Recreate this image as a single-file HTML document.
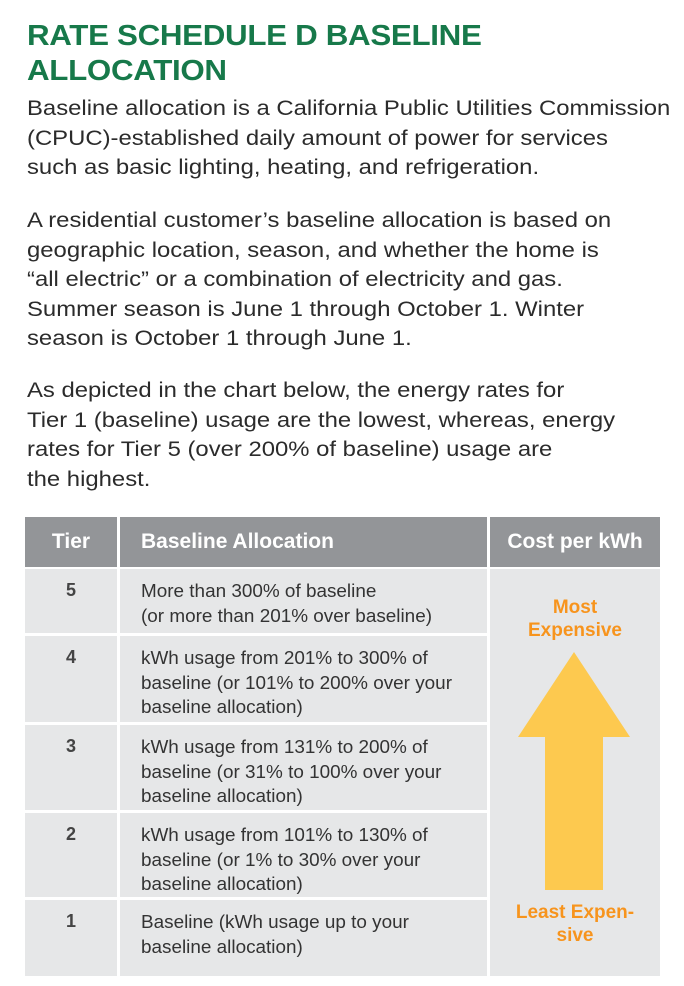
<!DOCTYPE html>
<html><head><meta charset="utf-8"><style>
body{margin:0;width:684px;height:986px;background:#fff;position:relative;font-family:"Liberation Sans",sans-serif;overflow:hidden}
.t{position:absolute;left:27px;top:19px;color:#17794a;font-weight:bold;font-size:29px;line-height:35px;letter-spacing:-0.3px;transform:scaleX(1.08);transform-origin:left top;white-space:nowrap}
.p{position:absolute;left:27px;color:#2b2b2b;font-size:21.5px;line-height:29.5px;white-space:nowrap;transform:scaleX(1.11);transform-origin:left top}
.c{position:absolute;background:#e6e7e8;color:#333;font-size:18px;line-height:24.5px;white-space:nowrap}
.c span{display:inline-block;transform:scaleX(1.05);transform-origin:left top}
.h{position:absolute;background:#939598;color:#fff;font-weight:bold;font-size:21px;line-height:50px}
.n{text-align:center;padding-top:9px;box-sizing:border-box;font-weight:bold;color:#444}
.d{padding:10px 0 0 21px;box-sizing:border-box}
.o{position:absolute;color:#f7941d;font-weight:bold;font-size:19px;line-height:23px;text-align:center;width:170px;left:490px}
</style></head><body>
<div class="t">RATE SCHEDULE D BASELINE<br>ALLOCATION</div>
<div class="p" style="top:94px">Baseline allocation is a California Public Utilities Commission<br>(CPUC)-established daily amount of power for services<br>such as basic lighting, heating, and refrigeration.</div>
<div class="p" style="top:206px">A residential customer’s baseline allocation is based on<br>geographic location, season, and whether the home is<br>“all electric” or a combination of electricity and gas.<br>Summer season is June 1 through October 1. Winter<br>season is October 1 through June 1.</div>
<div class="p" style="top:376px">As depicted in the chart below, the energy rates for<br>Tier 1 (baseline) usage are the lowest, whereas, energy<br>rates for Tier 5 (over 200% of baseline) usage are<br>the highest.</div>

<div class="h" style="left:25px;top:517px;width:92px;height:50px;text-align:center">Tier</div>
<div class="h" style="left:120px;top:517px;width:367px;height:50px;padding-left:21px;box-sizing:border-box">Baseline Allocation</div>
<div class="h" style="left:490px;top:517px;width:170px;height:50px;text-align:center">Cost per kWh</div>

<div class="c n" style="left:25px;top:569px;width:92px;height:64px">5</div>
<div class="c d" style="left:120px;top:569px;width:367px;height:64px"><span>More than 300% of baseline<br>(or more than 201% over baseline)</span></div>
<div class="c n" style="left:25px;top:636px;width:92px;height:86px">4</div>
<div class="c d" style="left:120px;top:636px;width:367px;height:86px"><span>kWh usage from 201% to 300% of<br>baseline (or 101% to 200% over your<br>baseline allocation)</span></div>
<div class="c n" style="left:25px;top:725px;width:92px;height:85px">3</div>
<div class="c d" style="left:120px;top:725px;width:367px;height:85px"><span>kWh usage from 131% to 200% of<br>baseline (or 31% to 100% over your<br>baseline allocation)</span></div>
<div class="c n" style="left:25px;top:813px;width:92px;height:84px">2</div>
<div class="c d" style="left:120px;top:813px;width:367px;height:84px"><span>kWh usage from 101% to 130% of<br>baseline (or 1% to 30% over your<br>baseline allocation)</span></div>
<div class="c n" style="left:25px;top:900px;width:92px;height:76px">1</div>
<div class="c d" style="left:120px;top:900px;width:367px;height:76px"><span>Baseline (kWh usage up to your<br>baseline allocation)</span></div>
<div class="c" style="left:490px;top:569px;width:170px;height:407px"></div>
<svg style="position:absolute;left:490px;top:569px" width="170" height="407"><polygon points="84,83 140,168 113,168 113,321 55,321 55,168 28,168" fill="#fdc94f"/></svg>
<div class="o" style="top:596px">Most<br>Expensive</div>
<div class="o" style="top:901px">Least Expen-<br>sive</div>
</body></html>
